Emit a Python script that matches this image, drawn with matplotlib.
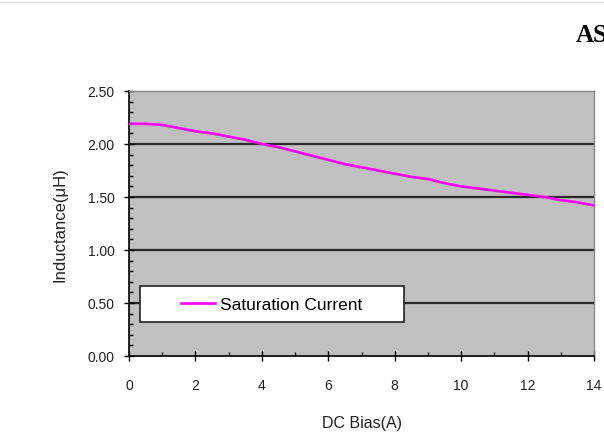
import matplotlib.pyplot as plt
from matplotlib.patches import Rectangle
from matplotlib.lines import Line2D
from matplotlib.ticker import MultipleLocator

# DC bias (A) vs inductance (uH)
bias = [0, 0.5, 1, 1.5, 2, 2.5, 3, 3.5, 4, 4.5, 5, 5.5, 6, 6.5, 7,
        7.5, 8, 8.5, 9, 9.5, 10, 10.5, 11, 11.5, 12, 12.5, 13, 13.5, 14]
inductance = [2.19, 2.19, 2.18, 2.15, 2.12, 2.10, 2.07, 2.04, 2.00, 1.97,
              1.93, 1.89, 1.85, 1.81, 1.78, 1.75, 1.72, 1.69, 1.67, 1.63,
              1.60, 1.58, 1.56, 1.54, 1.52, 1.50, 1.47, 1.45, 1.42]
series_name = "Saturation Current"
x_ticks = [0, 2, 4, 6, 8, 10, 12, 14]
y_ticks = [0.0, 0.5, 1.0, 1.5, 2.0, 2.5]

plt.rcParams['font.family'] = ['Liberation Sans', 'DejaVu Sans']

fig = plt.figure(figsize=(6.04, 4.35), dpi=100)
fig.patch.set_facecolor('white')

# faint top edge of the page
fig.add_artist(Line2D([0, 1], [1 - 3 / 435, 1 - 3 / 435], transform=fig.transFigure,
                      color='#e2e2e2', linewidth=0.8))

# header fragment cut off at the right edge (as in the source page)
fig.text(576 / 604, 1 - 36 / 435, "AS", family='Liberation Serif',
         fontsize=18, fontweight='bold', va='center', ha='left')

ax = fig.add_axes([129 / 604, 1 - 357 / 435, 465 / 604, 265 / 435])
ax.set_facecolor('#c0c0c0')

for y in y_ticks[1:-1]:
    ax.axhline(y, color='#2a2a2a', linewidth=1.6, zorder=1)

ax.plot(bias, inductance, color='#ff00ff', linewidth=1.9, zorder=3,
        label=series_name)

ax.set_xlim(0, 14)
ax.set_ylim(0, 2.5)
ax.set_xticks(x_ticks)
ax.set_yticks(y_ticks)
ax.set_yticklabels([f"{v:.2f}" for v in y_ticks])
ax.xaxis.set_minor_locator(MultipleLocator(1))
ax.yaxis.set_minor_locator(MultipleLocator(0.1))

ax.tick_params(which='major', direction='inout', length=7, width=1,
               labelsize=10, labelcolor='#222222')
ax.tick_params(axis='x', which='major', pad=12)
ax.tick_params(axis='y', which='major', pad=7)
ax.tick_params(which='minor', direction='in', length=3, width=1)

for side in ('left', 'bottom'):
    ax.spines[side].set_color('black')
    ax.spines[side].set_linewidth(1.2)
for side in ('top', 'right'):
    ax.spines[side].set_color('#8a8a8a')
    ax.spines[side].set_linewidth(1.0)

ax.set_xlabel("DC Bias(A)", fontsize=11.5, color='#222222', labelpad=17)
ax.set_ylabel("Inductance(\u03bcH)", fontsize=12, color='#222222', labelpad=14)

# legend box
bx0, by0 = (140 - 129) / 465, (357 - 323) / 265
bw, bh = 264 / 465, 36 / 265
ax.add_patch(Rectangle((bx0, by0), bw, bh, transform=ax.transAxes,
                       facecolor='white', edgecolor='#222222', linewidth=1.2,
                       zorder=4))
leg = ax.legend(loc='center', bbox_to_anchor=(bx0 + bw / 2, by0 + bh / 2),
                frameon=False, fontsize=12.5, handlelength=1.95,
                handletextpad=0.3)
leg.set_zorder(5)

plt.savefig('out.png', dpi=100)
